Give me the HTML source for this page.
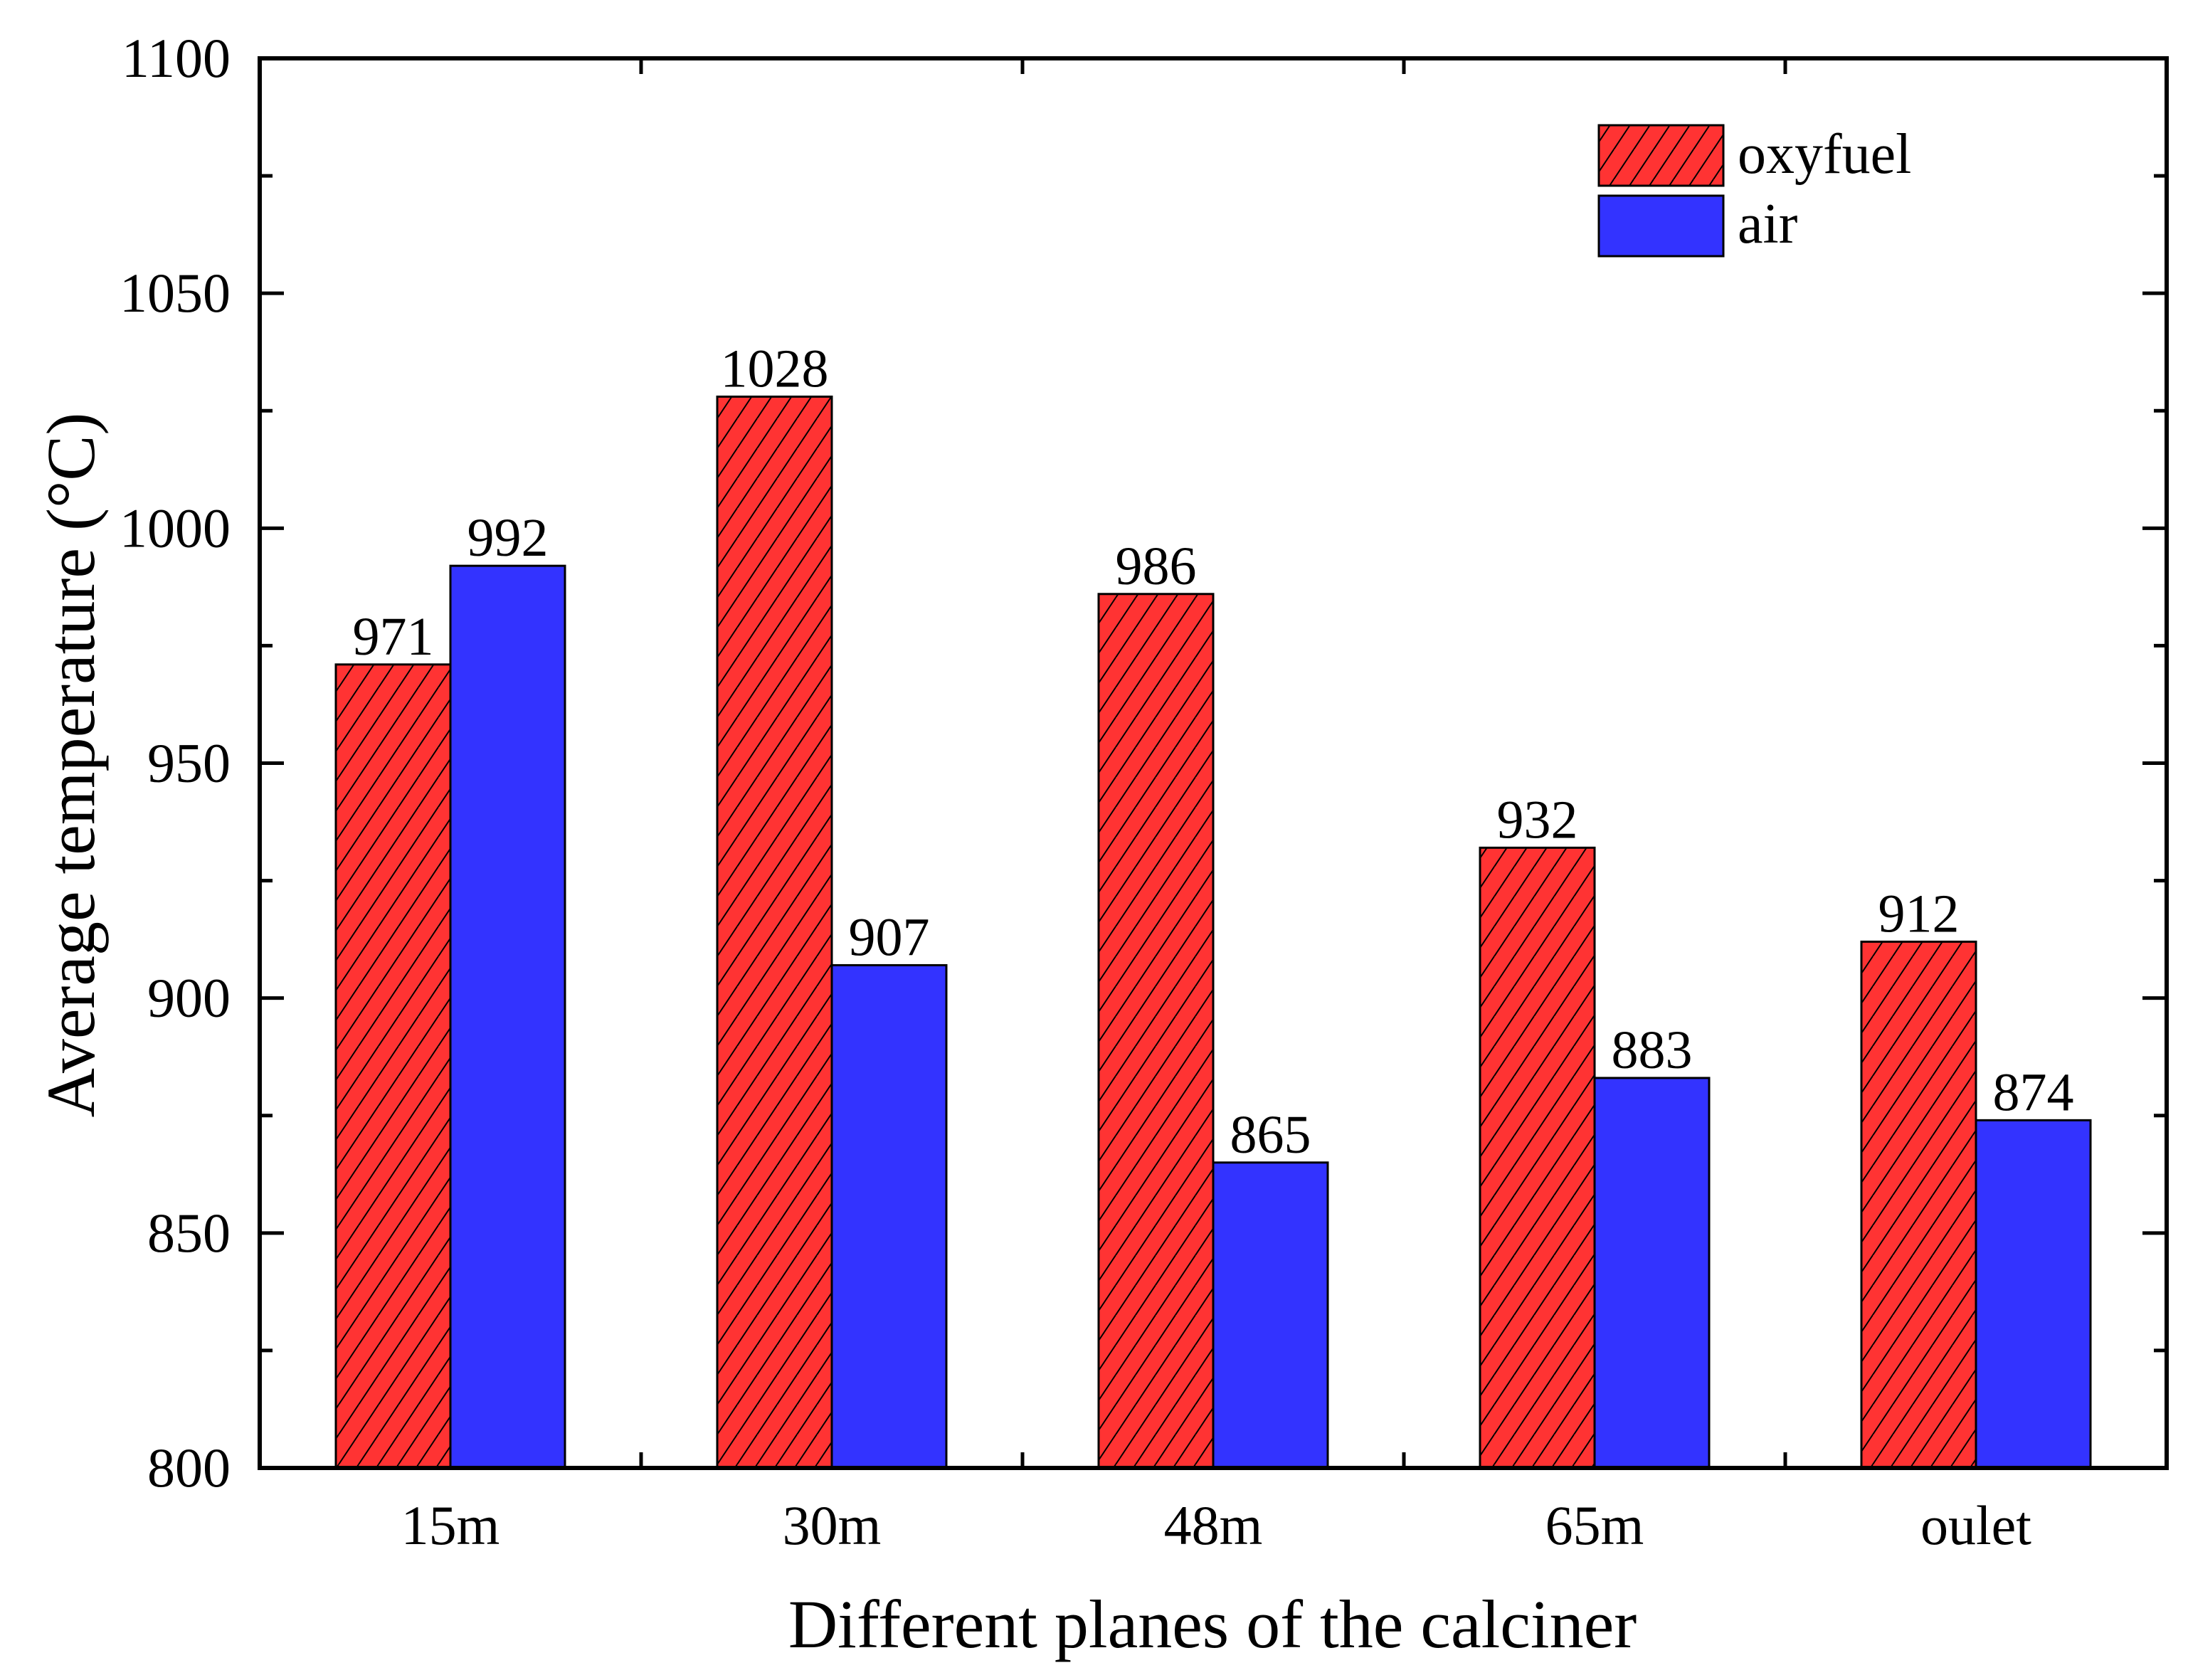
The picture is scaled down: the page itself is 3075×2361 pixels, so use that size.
<!DOCTYPE html>
<html><head><meta charset="utf-8"><style>
html,body{margin:0;padding:0;background:#fff}
svg{display:block}
text{font-family:"Liberation Serif",serif;fill:#000}
</style></head><body>
<svg id="chart" width="3075" height="2361" viewBox="0 0 3075 2361" xmlns="http://www.w3.org/2000/svg">
<defs>
<pattern id="hatch" patternUnits="userSpaceOnUse" width="28" height="42">
<rect width="28" height="42" fill="#ff3333"/>
<line x1="-28" y1="84" x2="28" y2="0" stroke="#000" stroke-width="2"/>
<line x1="0" y1="84" x2="56" y2="0" stroke="#000" stroke-width="2"/>
<line x1="-28" y1="42" x2="0" y2="0" stroke="#000" stroke-width="2"/>
</pattern>
</defs>
<g id="bars"></g>
<g id="axes"></g>
<g id="labels"></g>
</svg>
<script>
const categories = ["15m","30m","48m","65m","oulet"];
const oxyfuel = [971,1028,986,932,912];
const air = [992,907,865,883,874];
const yTicks = [800,850,900,950,1000,1050,1100];

const NS="http://www.w3.org/2000/svg";
const L=365,R=3045,T=82,B=2063;
const yMin=800,yMax=1100;
const band=(R-L)/categories.length;
const barW=161;
function y(v){return B-(v-yMin)/(yMax-yMin)*(B-T);}
function xc(i){return L+(i+0.5)*band;}
function mk(tag,attrs,parent){const e=document.createElementNS(NS,tag);for(const k in attrs)e.setAttribute(k,attrs[k]);parent.appendChild(e);return e;}
const gb=document.getElementById('bars'),ga=document.getElementById('axes'),gl=document.getElementById('labels');

categories.forEach((c,i)=>{
  const r1=mk('rect',{x:xc(i)-barW,y:y(oxyfuel[i]),width:barW,height:B-y(oxyfuel[i]),fill:'url(#hatch)',stroke:'#000','stroke-width':3},gb);
  
  
  const r2=mk('rect',{x:xc(i),y:y(air[i]),width:barW,height:B-y(air[i]),fill:'#3333ff',stroke:'#000','stroke-width':3},gb);
  
  
  const t1=mk('text',{x:xc(i)-barW/2,y:y(oxyfuel[i])-14,'font-size':76,'text-anchor':'middle'},gl);
  t1.textContent=oxyfuel[i];
  
  
  const t2=mk('text',{x:xc(i)+barW/2,y:y(air[i])-14,'font-size':76,'text-anchor':'middle'},gl);
  t2.textContent=air[i];
  
  
  const tl=mk('text',{x:xc(i),y:2170,'font-size':78,'text-anchor':'middle'},gl);
  tl.textContent=c;
  
  
});
const fr=mk('rect',{x:L,y:T,width:R-L,height:B-T,fill:'none',stroke:'#000','stroke-width':6},ga);


for(let i=1;i<categories.length;i++){
  const x=L+i*band;
  mk('line',{x1:x,y1:B,x2:x,y2:B-22,stroke:'#000','stroke-width':5},ga);
  mk('line',{x1:x,y1:T,x2:x,y2:T+22,stroke:'#000','stroke-width':5},ga);
}
yTicks.forEach((v,i)=>{
  const yy=y(v);
  mk('line',{x1:L,y1:yy,x2:L+34,y2:yy,stroke:'#000','stroke-width':5},ga);
  mk('line',{x1:R,y1:yy,x2:R-34,y2:yy,stroke:'#000','stroke-width':5},ga);
  if(i<yTicks.length-1){
    const ym=y(v+25);
    mk('line',{x1:L,y1:ym,x2:L+18,y2:ym,stroke:'#000','stroke-width':5},ga);
    mk('line',{x1:R,y1:ym,x2:R-18,y2:ym,stroke:'#000','stroke-width':5},ga);
  }
  const t=mk('text',{x:324,y:yy+26,'font-size':78,'text-anchor':'end'},gl);
  t.textContent=v;
  
  
});
</script>
<svg style="position:absolute;left:0;top:0" width="3075" height="2361" xmlns="http://www.w3.org/2000/svg">
<text x="1704" y="2315" font-size="96" text-anchor="middle" style="font-family:'Liberation Serif',serif">Different planes of the calciner</text>
<text x="0" y="0" font-size="96" text-anchor="middle" transform="translate(132,1075) rotate(-90)" style="font-family:'Liberation Serif',serif">Average temperature (°C)</text>
<g>
<rect x="2247" y="176" width="175" height="85" fill="url(#hatch)" stroke="#000" stroke-width="3"/>
<rect x="2247" y="275" width="175" height="85" fill="#3333ff" stroke="#000" stroke-width="3"/>
<text x="2442" y="243" font-size="80" style="font-family:'Liberation Serif',serif">oxyfuel</text>
<text x="2442" y="341" font-size="80" style="font-family:'Liberation Serif',serif">air</text>
</g>
</svg>
</body></html>
